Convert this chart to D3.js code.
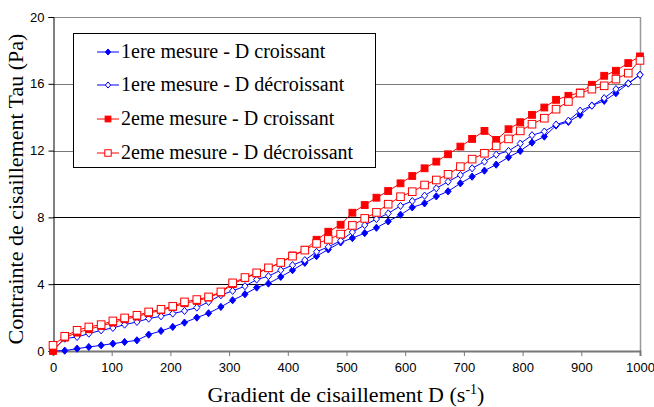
<!DOCTYPE html>
<html>
<head>
<meta charset="utf-8">
<script src="https://cdn.jsdelivr.net/npm/d3@7"></script>
<style>
  body { margin: 0; background: #fff; }
</style>
</head>
<body>
<svg id="chart" width="654" height="407"></svg>
<script>
// shear rate D (s-1)
var gradient = [0, 20, 41, 61, 82, 102, 122, 143, 163, 184, 204, 224, 245, 265, 286, 306, 327, 347, 367, 388,
                408, 429, 449, 469, 490, 510, 531, 551, 571, 592, 612, 633, 653, 673, 694, 714, 735, 755, 776, 796,
                816, 837, 857, 878, 898, 918, 939, 959, 980, 1000];

// shear stress Tau (Pa)
var mesure1Croissant = [0.0, 0.02, 0.14, 0.24, 0.34, 0.44, 0.54, 0.64, 0.98, 1.2, 1.44, 1.7, 2.0, 2.26, 2.64, 3.04, 3.4, 3.8, 4.04, 4.44,
                        4.84, 5.28, 5.68, 6.08, 6.5, 6.76, 7.06, 7.38, 7.76, 8.16, 8.6, 8.84, 9.26, 9.56, 10.04, 10.44, 10.8, 11.16, 11.6, 11.98,
                        12.48, 12.84, 13.5, 13.72, 14.14, 14.7, 14.98, 15.44, 16.02, 16.54];
var mesure1Decroissant = [0.05, 0.74, 0.84, 1.04, 1.24, 1.38, 1.58, 1.74, 1.94, 2.08, 2.24, 2.4, 2.6, 2.94, 3.34, 3.6, 3.88, 4.28, 4.48, 4.84,
                          5.14, 5.44, 5.94, 6.24, 6.6, 7.12, 7.54, 7.9, 8.24, 8.69, 8.98, 9.3, 9.74, 10.14, 10.54, 10.94, 11.34, 11.76, 11.98, 12.42,
                          12.92, 13.14, 13.56, 13.79, 14.39, 14.69, 15.14, 15.68, 16.02, 16.54];
var mesure2Croissant = [0.0, 0.8, 1.1, 1.3, 1.5, 1.7, 1.9, 2.06, 2.26, 2.44, 2.62, 2.86, 3.0, 3.2, 3.5, 4.0, 4.36, 4.64, 4.96, 5.3,
                        5.72, 6.06, 6.66, 7.14, 7.56, 8.28, 8.74, 9.18, 9.58, 10.04, 10.48, 10.94, 11.34, 11.78, 12.24, 12.7, 13.18, 12.64, 13.28, 13.7,
                        14.14, 14.58, 15.04, 15.28, 15.48, 15.94, 16.48, 16.78, 17.24, 17.64];
var mesure2Decroissant = [0.34, 0.88, 1.24, 1.44, 1.58, 1.8, 1.98, 2.14, 2.34, 2.5, 2.68, 2.94, 3.08, 3.24, 3.54, 4.08, 4.4, 4.68, 4.98, 5.3,
                          5.68, 6.04, 6.44, 6.68, 7.0, 7.52, 7.94, 8.3, 8.79, 9.24, 9.54, 9.94, 10.24, 10.58, 11.04, 11.49, 11.84, 12.28, 12.7, 13.18,
                          13.58, 13.94, 14.48, 14.94, 15.44, 15.68, 15.88, 16.28, 16.64, 17.4];

var xTicks = [0, 100, 200, 300, 400, 500, 600, 700, 800, 900, 1000];
var yTicks = [0, 4, 8, 12, 16, 20];

var seriesNames = ["1ere mesure - D croissant", "1ere mesure - D décroissant",
                   "2eme mesure - D croissant", "2eme mesure - D décroissant"];

var series = [
  {name: seriesNames[0], values: mesure1Croissant, color: "#0000ff", marker: "diamond", filled: true},
  {name: seriesNames[1], values: mesure1Decroissant, color: "#0000ff", marker: "diamond", filled: false},
  {name: seriesNames[2], values: mesure2Croissant, color: "#ff0000", marker: "square", filled: true},
  {name: seriesNames[3], values: mesure2Decroissant, color: "#ff0000", marker: "square", filled: false}
];

var serif = "'Liberation Serif', 'Times New Roman', serif";
var sans = "'Liberation Sans', Arial, sans-serif";

var svg = d3.select("#chart");
var plotLeft = 53, plotRight = 640, plotTop = 17, plotBottom = 351;

var x = d3.scaleLinear().domain([0, 1000]).range([plotLeft, plotRight]);
var y = d3.scaleLinear().domain([0, 20]).range([plotBottom, plotTop]);

// grid lines
svg.selectAll(".grid")
  .data(yTicks.filter(function(t){ return t > 0 && t < 20; }))
  .enter().append("line")
  .attr("x1", plotLeft).attr("x2", plotRight)
  .attr("y1", function(d){ return Math.round(y(d)) + 0.5; })
  .attr("y2", function(d){ return Math.round(y(d)) + 0.5; })
  .attr("stroke", function(d){ return d >= 12 ? "#777" : "#000"; })
  .attr("stroke-width", 1);

// plot frame top / right
svg.append("line").attr("x1", plotLeft).attr("x2", plotRight).attr("y1", plotTop + 0.5).attr("y2", plotTop + 0.5)
  .attr("stroke", "#888");
svg.append("line").attr("x1", plotRight + 0.5).attr("x2", plotRight + 0.5).attr("y1", plotTop).attr("y2", plotBottom)
  .attr("stroke", "#999").attr("stroke-width", 1.5);

// axes
var yAxis = d3.axisLeft(y).tickValues(yTicks).tickSize(5).tickPadding(4);
var gy = svg.append("g").attr("transform", "translate(" + (plotLeft + 0.5) + ",0)").call(yAxis);
gy.select(".domain").attr("stroke", "#000");
gy.selectAll(".tick line").attr("stroke", "#000");
gy.selectAll("text").attr("font-family", sans).attr("font-size", 13).attr("fill", "#000");

var xAxis = d3.axisBottom(x).tickValues(xTicks).tickFormat(d3.format("d")).tickSize(5).tickPadding(7);
var gx = svg.append("g").attr("transform", "translate(0," + plotBottom + ")").call(xAxis);
gx.select(".domain").attr("stroke", "#777").attr("stroke-width", 2);
gx.selectAll(".tick line").attr("stroke", "#777");
gx.selectAll("text").attr("font-family", sans).attr("font-size", 13).attr("fill", "#000");

// marker drawer
function drawMarker(g, s, cx, cy, scale) {
  if (s.marker === "diamond") {
    var r = 3.6 * scale;
    g.append("path")
      .attr("d", "M" + cx + "," + (cy - r) + "L" + (cx + r * 0.85) + "," + cy + "L" + cx + "," + (cy + r) + "L" + (cx - r * 0.85) + "," + cy + "Z")
      .attr("fill", s.filled ? s.color : "#fff")
      .attr("stroke", s.color).attr("stroke-width", 1);
  } else {
    var h = (s.filled ? 3.4 : 3.8) * scale;
    g.append("rect")
      .attr("x", cx - h).attr("y", cy - h).attr("width", 2 * h).attr("height", 2 * h)
      .attr("fill", s.filled ? s.color : "#fff")
      .attr("stroke", s.color).attr("stroke-width", 1);
  }
}

var line = d3.line()
  .x(function(d){ return x(d[0]); })
  .y(function(d){ return y(d[1]); });

series.forEach(function(s){
  var pts = gradient.map(function(g, i){ return [g, s.values[i]]; });
  var g = svg.append("g");
  g.append("path").attr("d", line(pts)).attr("fill", "none")
    .attr("stroke", s.color).attr("stroke-width", 1);
  pts.forEach(function(p){ drawMarker(g, s, x(p[0]), y(p[1]), 1); });
});

// legend
var lg = svg.append("g");
lg.append("rect").attr("x", 73.5).attr("y", 33.5).attr("width", 302).attr("height", 134)
  .attr("fill", "#fff").attr("stroke", "#000").attr("stroke-width", 1);
var legendY = [52, 85, 119, 153];
series.forEach(function(s, i){
  var ly = legendY[i];
  lg.append("line").attr("x1", 97).attr("x2", 119).attr("y1", ly).attr("y2", ly)
    .attr("stroke", s.color).attr("stroke-width", 1);
  drawMarker(lg, s, 108, ly, 0.85);
  lg.append("text").attr("x", 121).attr("y", ly + 6)
    .attr("font-family", serif).attr("font-size", 20).attr("fill", "#000")
    .text(s.name);
});

// axis titles
var xt = svg.append("text").attr("x", 346).attr("y", 402).attr("text-anchor", "middle")
  .attr("font-family", serif).attr("font-size", 22).attr("fill", "#000");
xt.append("tspan").text("Gradient de cisaillement D (s");
xt.append("tspan").attr("dy", -8).attr("font-size", 14).text("-1");
xt.append("tspan").attr("dy", 8).text(")");

svg.append("text")
  .attr("transform", "translate(23,189) rotate(-90)")
  .attr("text-anchor", "middle")
  .attr("font-family", serif).attr("font-size", 22).attr("fill", "#000")
  .text("Contrainte de cisaillement Tau (Pa)");
</script>
</body>
</html>
